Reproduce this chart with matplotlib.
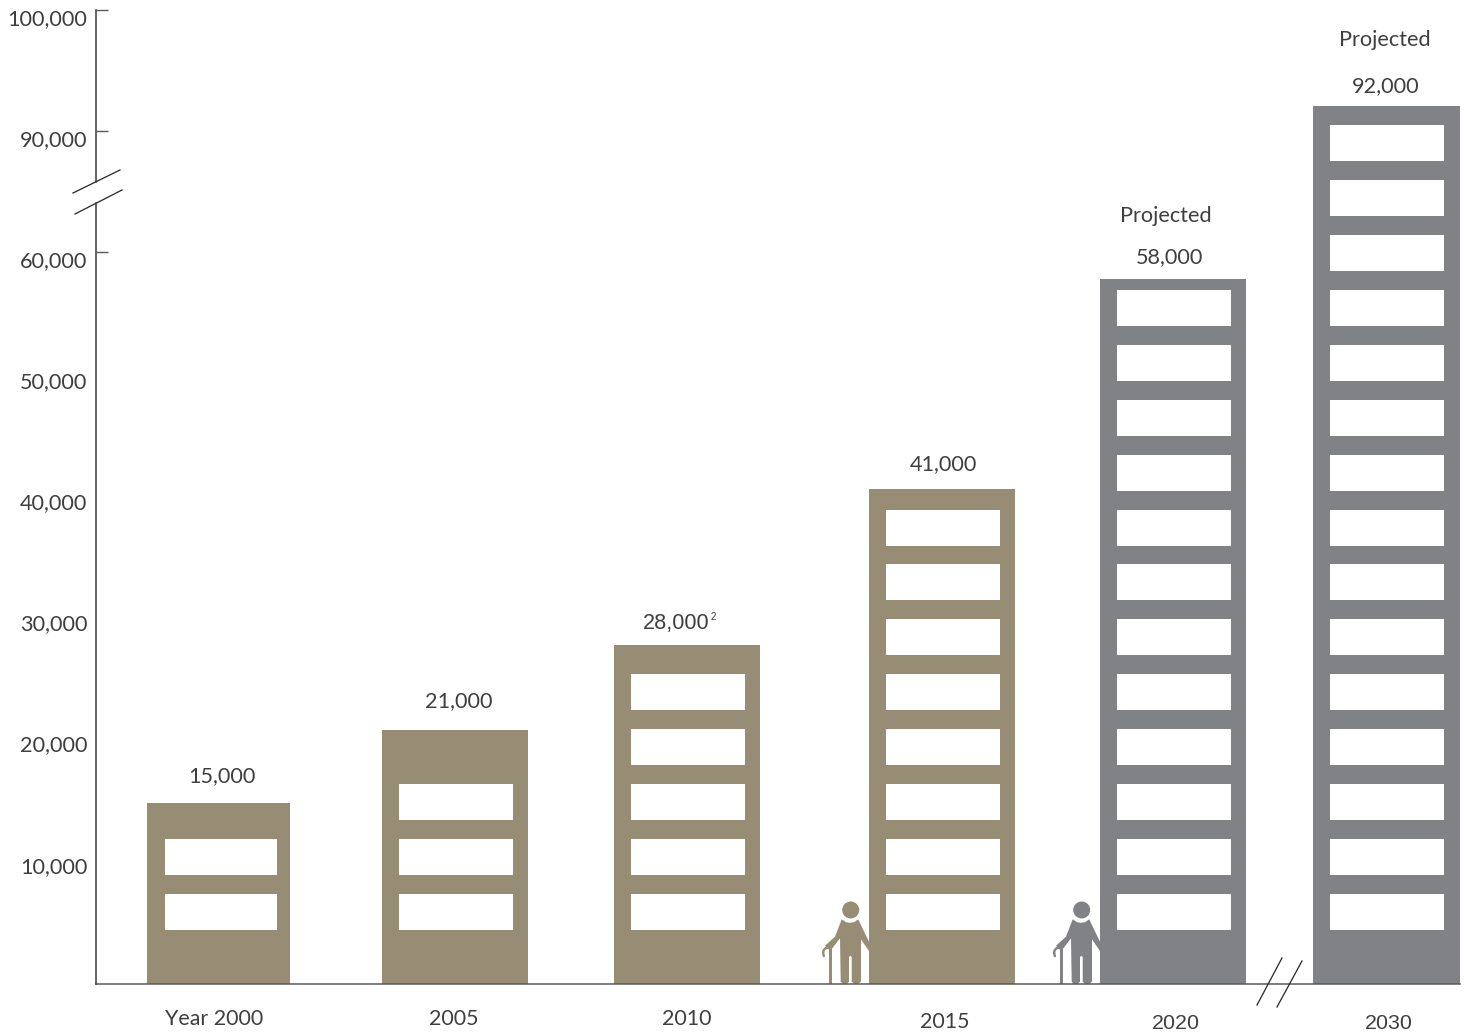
import numpy as np
import matplotlib
matplotlib.use('Agg')
import matplotlib.pyplot as plt
from matplotlib.patches import Rectangle, Circle, Polygon
from matplotlib.transforms import Affine2D, ScaledTranslation

W, H = 1467, 1035

years = ['Year 2000', '2005', '2010', '2015', '2020', '2030']
cases = [15000, 21000, 28000, 41000, 58000, 92000]
projected = [False, False, False, False, True, True]
window_rows = [2, 3, 5, 8, 12, 15]
yticks = [10000, 20000, 30000, 40000, 50000, 60000, 90000, 100000]
marked_ticks = [60000, 90000, 100000]

# the axis is hand spaced and broken above 60,000, so it is a piecewise scale
scale_values = [0, 10000, 15000, 20000, 21000, 28000, 30000, 40000, 41000, 50000,
                58000, 60000, 90000, 92000, 100000]
scale_pixels = [984, 858, 803, 736, 730, 645, 615, 494, 489, 373,
                279, 252, 131, 106, 10]

bar_left = [147, 382, 614, 869, 1100, 1313]
bar_width = [143, 146, 146, 146, 146, 147]
window_width = [112, 114, 114, 114, 114, 114]
label_dx = [3, 4, -11, 1, -3, -1]
label_dy = [27, 29, 22, 25, 22, 20]
projected_dx = {4: -7, 5: -1.5}
projected_dy = {4: 62.5, 5: 65.5}
year_x = [214, 454, 687, 945, 1176, 1389]
year_y = [1019, 1019, 1019, 1022, 1023.5, 1023.5]

TAN = '#978d74'
GREY = '#808285'
TEXT = '#3f3f41'
LINE = '#3a3a3c'
FS = 15.6
ARIAL_LIKE = ['Liberation Sans', 'DejaVu Sans']

plt.rcParams['font.family'] = ['Lato', 'DejaVu Sans']

fig = plt.figure(figsize=(W / 100, H / 100), dpi=100)
ax = fig.add_axes([96 / W, 1 - 984 / H, (1460 - 96) / W, (984 - 10) / H])

knot_v = np.array(scale_values, dtype=float)
knot_f = (984 - np.array(scale_pixels, dtype=float)) / 974.


def forward(v):
    return np.interp(v, knot_v, knot_f)


def inverse(f):
    return np.interp(f, knot_f, knot_v)


ax.set_yscale('function', functions=(forward, inverse))
ax.set_ylim(0, 100000)
ax.set_xlim(96, 1460)

for s in ['top', 'right', 'left']:
    ax.spines[s].set_visible(False)
ax.spines['bottom'].set_color('#58585a')
ax.spines['bottom'].set_linewidth(1.1)
ax.set_xticks([])

ax.set_yticks(yticks)
ax.set_yticklabels(['{:,}'.format(v) for v in yticks], fontsize=FS, color=TEXT)
ax.yaxis.remove_overlapping_locs = False
ax.set_yticks(marked_ticks, minor=True)
ax.yaxis.set_minor_formatter(plt.NullFormatter())
ax.tick_params(axis='y', which='major', length=0, pad=6.2)
ax.tick_params(axis='y', which='minor', length=8.8, width=1.0, direction='in', color='#58585a')

# tick labels sit a little below their tick
shift = ScaledTranslation(0, -7 / 100, fig.dpi_scale_trans)
for lab in ax.get_yticklabels():
    lab.set_transform(lab.get_transform() + shift)

# axis line with a gap at the break
ytrans = ax.get_yaxis_transform()
ax.plot([0, 0], [0, 72150], color=LINE, lw=1.1, transform=ytrans, clip_on=False, zorder=5)
ax.plot([0, 0], [77350, 100000], color=LINE, lw=1.1, transform=ytrans, clip_on=False, zorder=5)

# anything that is not tied to a value is placed in pixels from the top left
px = Affine2D().scale(1. / W, -1. / H).translate(0, 1) + fig.transFigure

for x0, y0, x1, y1 in [(73, 193, 120, 170), (75, 214, 122, 190),
                       (1257, 1005, 1282, 958), (1277, 1007, 1302, 961)]:
    fig.add_artist(plt.Line2D([x0, x1], [y0, y1], color='#2e2e30', lw=0.95, transform=px))


def draw_person(dx, color):
    body = [(841.7, 919.3), (846, 922.2), (850, 922.8), (854, 922.2), (858.3, 919.3),
            (861.7, 926.7), (869, 941.7), (869, 951), (861, 939.3), (861, 981.7),
            (858, 984), (854.5, 984), (851.7, 981.7), (851.7, 957), (850.3, 955.8),
            (849, 957), (849, 981.7), (846.5, 984), (842.8, 984), (840.7, 981.7),
            (840, 938.3), (832.3, 948.3), (827.5, 948.5), (825, 945.7), (835, 936.7)]
    points = [(x + dx, y) for x, y in body]
    ax.add_patch(Polygon(points, closed=True, fc=color, ec='none', transform=px, zorder=1))
    ax.add_patch(Circle((850.7 + dx, 910), 8.5, fc=color, ec='none', transform=px, zorder=1))
    ax.add_patch(Rectangle((829.3 + dx, 948), 3, 36, fc=color, ec='none', transform=px, zorder=1))
    # handle of the cane
    hook_x = [830.8, 828.5, 825.5, 823.5, 823.2, 823.8]
    hook_y = [949.5, 947.8, 948.2, 950.5, 953, 956.2]
    ax.plot([x + dx for x in hook_x], hook_y, color=color, lw=1.7, transform=px,
            solid_capstyle='round', zorder=1, clip_on=False)


draw_person(0, TAN)
draw_person(231, GREY)

xtrans = ax.get_xaxis_transform()
for i, value in enumerate(cases):
    color = GREY if projected[i] else TAN
    left = bar_left[i]
    width = bar_width[i]
    ax.bar(left, value, width=width, align='edge', color=color, zorder=2, clip_on=False)

    # windows, counted up from the ground floor
    inset = 18 if i == 0 else 17
    for row in range(window_rows[i]):
        bottom = (54 + 54.92 * row) / 974.
        ax.add_patch(Rectangle((left + inset, bottom), window_width[i], 36 / 974.,
                               fc='white', ec='none', transform=xtrans, zorder=3))

    center = left + width / 2.
    value_font = ARIAL_LIKE if i == 2 else plt.rcParams['font.family']
    ax.annotate('{:,}'.format(value), (center, value),
                xytext=(label_dx[i] * 0.72, label_dy[i] * 0.72),
                textcoords='offset points', ha='center', va='center', family=value_font,
                fontsize=FS, color=TEXT, annotation_clip=False)
    if projected[i]:
        ax.annotate('Projected', (center, value),
                    xytext=(projected_dx[i] * 0.72, projected_dy[i] * 0.72),
                    textcoords='offset points', ha='center', va='center',
                    fontsize=FS, color=TEXT, annotation_clip=False)

    year_font = ARIAL_LIKE if projected[i] else plt.rcParams['font.family']
    fig.text(year_x[i], year_y[i], years[i], transform=px, ha='center', va='center',
             family=year_font, fontsize=15.4, color=TEXT)

# footnote mark on the 2010 figure
ax.annotate('2', (687, 28000), xytext=(26.5 * 0.72, 28 * 0.72), textcoords='offset points',
            ha='center', va='center', family=ARIAL_LIKE, fontsize=7, color=TEXT,
            annotation_clip=False)

fig.savefig('out.png', dpi=100)
